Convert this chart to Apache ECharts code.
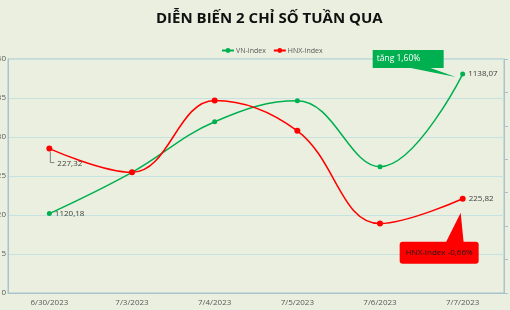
<!DOCTYPE html>
<html><head><meta charset="utf-8">
<script src="https://cdn.jsdelivr.net/npm/echarts@6/dist/echarts.min.js"></script>
<style>html,body{margin:0;padding:0;background:#EBEFDF;}#c{width:510px;height:310px;}</style>
</head><body><div id="c"></div>
<script>
const titleText = 'DIỄN BIẾN 2 CHỈ SỐ TUẦN QUA';
const categories = ['6/30/2023','7/3/2023','7/4/2023','7/5/2023','7/6/2023','7/7/2023'];
const vnIndex = [1120.18, 1125.47, 1131.96, 1134.65, 1126.19, 1138.07];
const hnxIndex = [227.32, 226.61, 228.76, 227.85, 225.08, 225.82];
const vnLabels = {0: '1120,18', 5: '1138,07'};
const hnxLabels = {0: '227,32', 5: '225,82'};
const vnNote = 'tăng 1,60%';
const hnxNote = 'HNX-Index -0,66%';
const leftAxis = {min: 1110, max: 1140, interval: 5};
const rightAxis = {min: 223, max: 230, interval: 1};

const GREEN = '#00B050', RED = '#FF0000';
const lblStyle = {show: true, fontSize: 8, color: '#404040', fontFamily: 'Open Sans'};

function mkData(vals, labels, special) {
  return vals.map((v, i) => {
    if (labels[i] === undefined) return v;
    const o = {value: v, label: Object.assign({}, lblStyle, {position: 'right', distance: 3, formatter: labels[i]})};
    if (special && special[i]) Object.assign(o.label, special[i]);
    return o;
  });
}

const chart = echarts.init(document.getElementById('c'));
chart.setOption({
  backgroundColor: '#EBEFDF',
  animation: false,
  title: {text: titleText, left: 151, top: 6,
    textStyle: {fontFamily: 'Open Sans', fontWeight: 'bold', fontSize: 15, color: '#111'}},
  legend: {top: 42, left: 216, itemWidth: 12, itemHeight: 6, itemGap: 7,
    textStyle: {fontSize: 7, color: '#595959', fontFamily: 'Open Sans', padding: [0, 0, 0, -3]},
    data: ['VN-Index', 'HNX-Index']},
  grid: {left: 8, right: 6, top: 59, bottom: 17, containLabel: false, outerBoundsMode: 'none',
    show: true, borderColor: '#A9C2CC', borderWidth: 1},
  xAxis: {type: 'category', data: categories, boundaryGap: true,
    axisLine: {lineStyle: {color: '#A9C2CC'}}, axisTick: {show: false},
    axisLabel: {fontSize: 8, color: '#595959', margin: 6, fontFamily: 'Open Sans'}},
  yAxis: [
    {type: 'value', min: leftAxis.min, max: leftAxis.max, interval: leftAxis.interval,
      axisLine: {show: true, lineStyle: {color: '#A9C2CC'}}, axisTick: {show: false},
      axisLabel: {fontSize: 8, color: '#595959', margin: 2, fontFamily: 'Open Sans', formatter: v => String(v)},
      splitLine: {lineStyle: {color: '#C6E2E0', width: 1}}},
    {type: 'value', position: 'right', min: rightAxis.min, max: rightAxis.max, interval: rightAxis.interval,
      axisLine: {show: true, lineStyle: {color: '#A9C2CC'}},
      axisTick: {show: true, length: 4, lineStyle: {color: '#A9C2CC'}},
      axisLabel: {show: false}, splitLine: {show: false}}
  ],
  series: [
    {name: 'VN-Index', type: 'line', yAxisIndex: 0, smooth: 0.4, symbol: 'circle', symbolSize: 5,
      lineStyle: {color: GREEN, width: 1.5}, itemStyle: {color: GREEN},
      data: mkData(vnIndex, vnLabels)},
    {name: 'HNX-Index', type: 'line', yAxisIndex: 1, smooth: 0.4, symbol: 'circle', symbolSize: 6,
      lineStyle: {color: RED, width: 1.5}, itemStyle: {color: RED},
      data: mkData(hnxIndex, hnxLabels, {0: {offset: [2, 15]}})}
  ]
});

// annotations anchored to data points
const pVn = chart.convertToPixel({seriesIndex: 0}, [5, vnIndex[5]]);
const pHnx = chart.convertToPixel({seriesIndex: 1}, [5, hnxIndex[5]]);
const pH0 = chart.convertToPixel({seriesIndex: 1}, [0, hnxIndex[0]]);

const gx = pVn[0] - 90, gy = pVn[1] - 24;
const rx = pHnx[0] - 63, ry = pHnx[1] + 43;
chart.setOption({graphic: [
  {type: 'polyline', shape: {points: [[pH0[0] + 1, pH0[1] + 3], [pH0[0] + 1, pH0[1] + 14], [pH0[0] + 5, pH0[1] + 14]]},
    style: {stroke: '#7f7f7f', lineWidth: 1, fill: null}},
  {type: 'polygon', shape: {points: [[gx + 38, gy + 18], [gx + 58, gy + 18], [pVn[0] - 7, pVn[1] + 3]]},
    style: {fill: GREEN}},
  {type: 'rect', shape: {x: gx, y: gy, width: 71, height: 18}, style: {fill: GREEN}},
  {type: 'text', x: gx + 4, y: gy + 9, style: {text: vnNote, fill: '#fff', fontSize: 8.5, fontFamily: 'Open Sans', verticalAlign: 'middle'}},
  {type: 'polygon', shape: {points: [[rx + 46, ry + 1], [rx + 64, ry + 1], [pHnx[0] - 2, pHnx[1] + 14]]},
    style: {fill: RED}},
  {type: 'rect', shape: {x: rx, y: ry, width: 79, height: 22, r: 3}, style: {fill: RED}},
  {type: 'text', x: rx + 39.5, y: ry + 11, style: {text: hnxNote, fill: '#1a1a1a', fontSize: 8, fontFamily: 'Open Sans', align: 'center', verticalAlign: 'middle'}}
]});
</script></body></html>
